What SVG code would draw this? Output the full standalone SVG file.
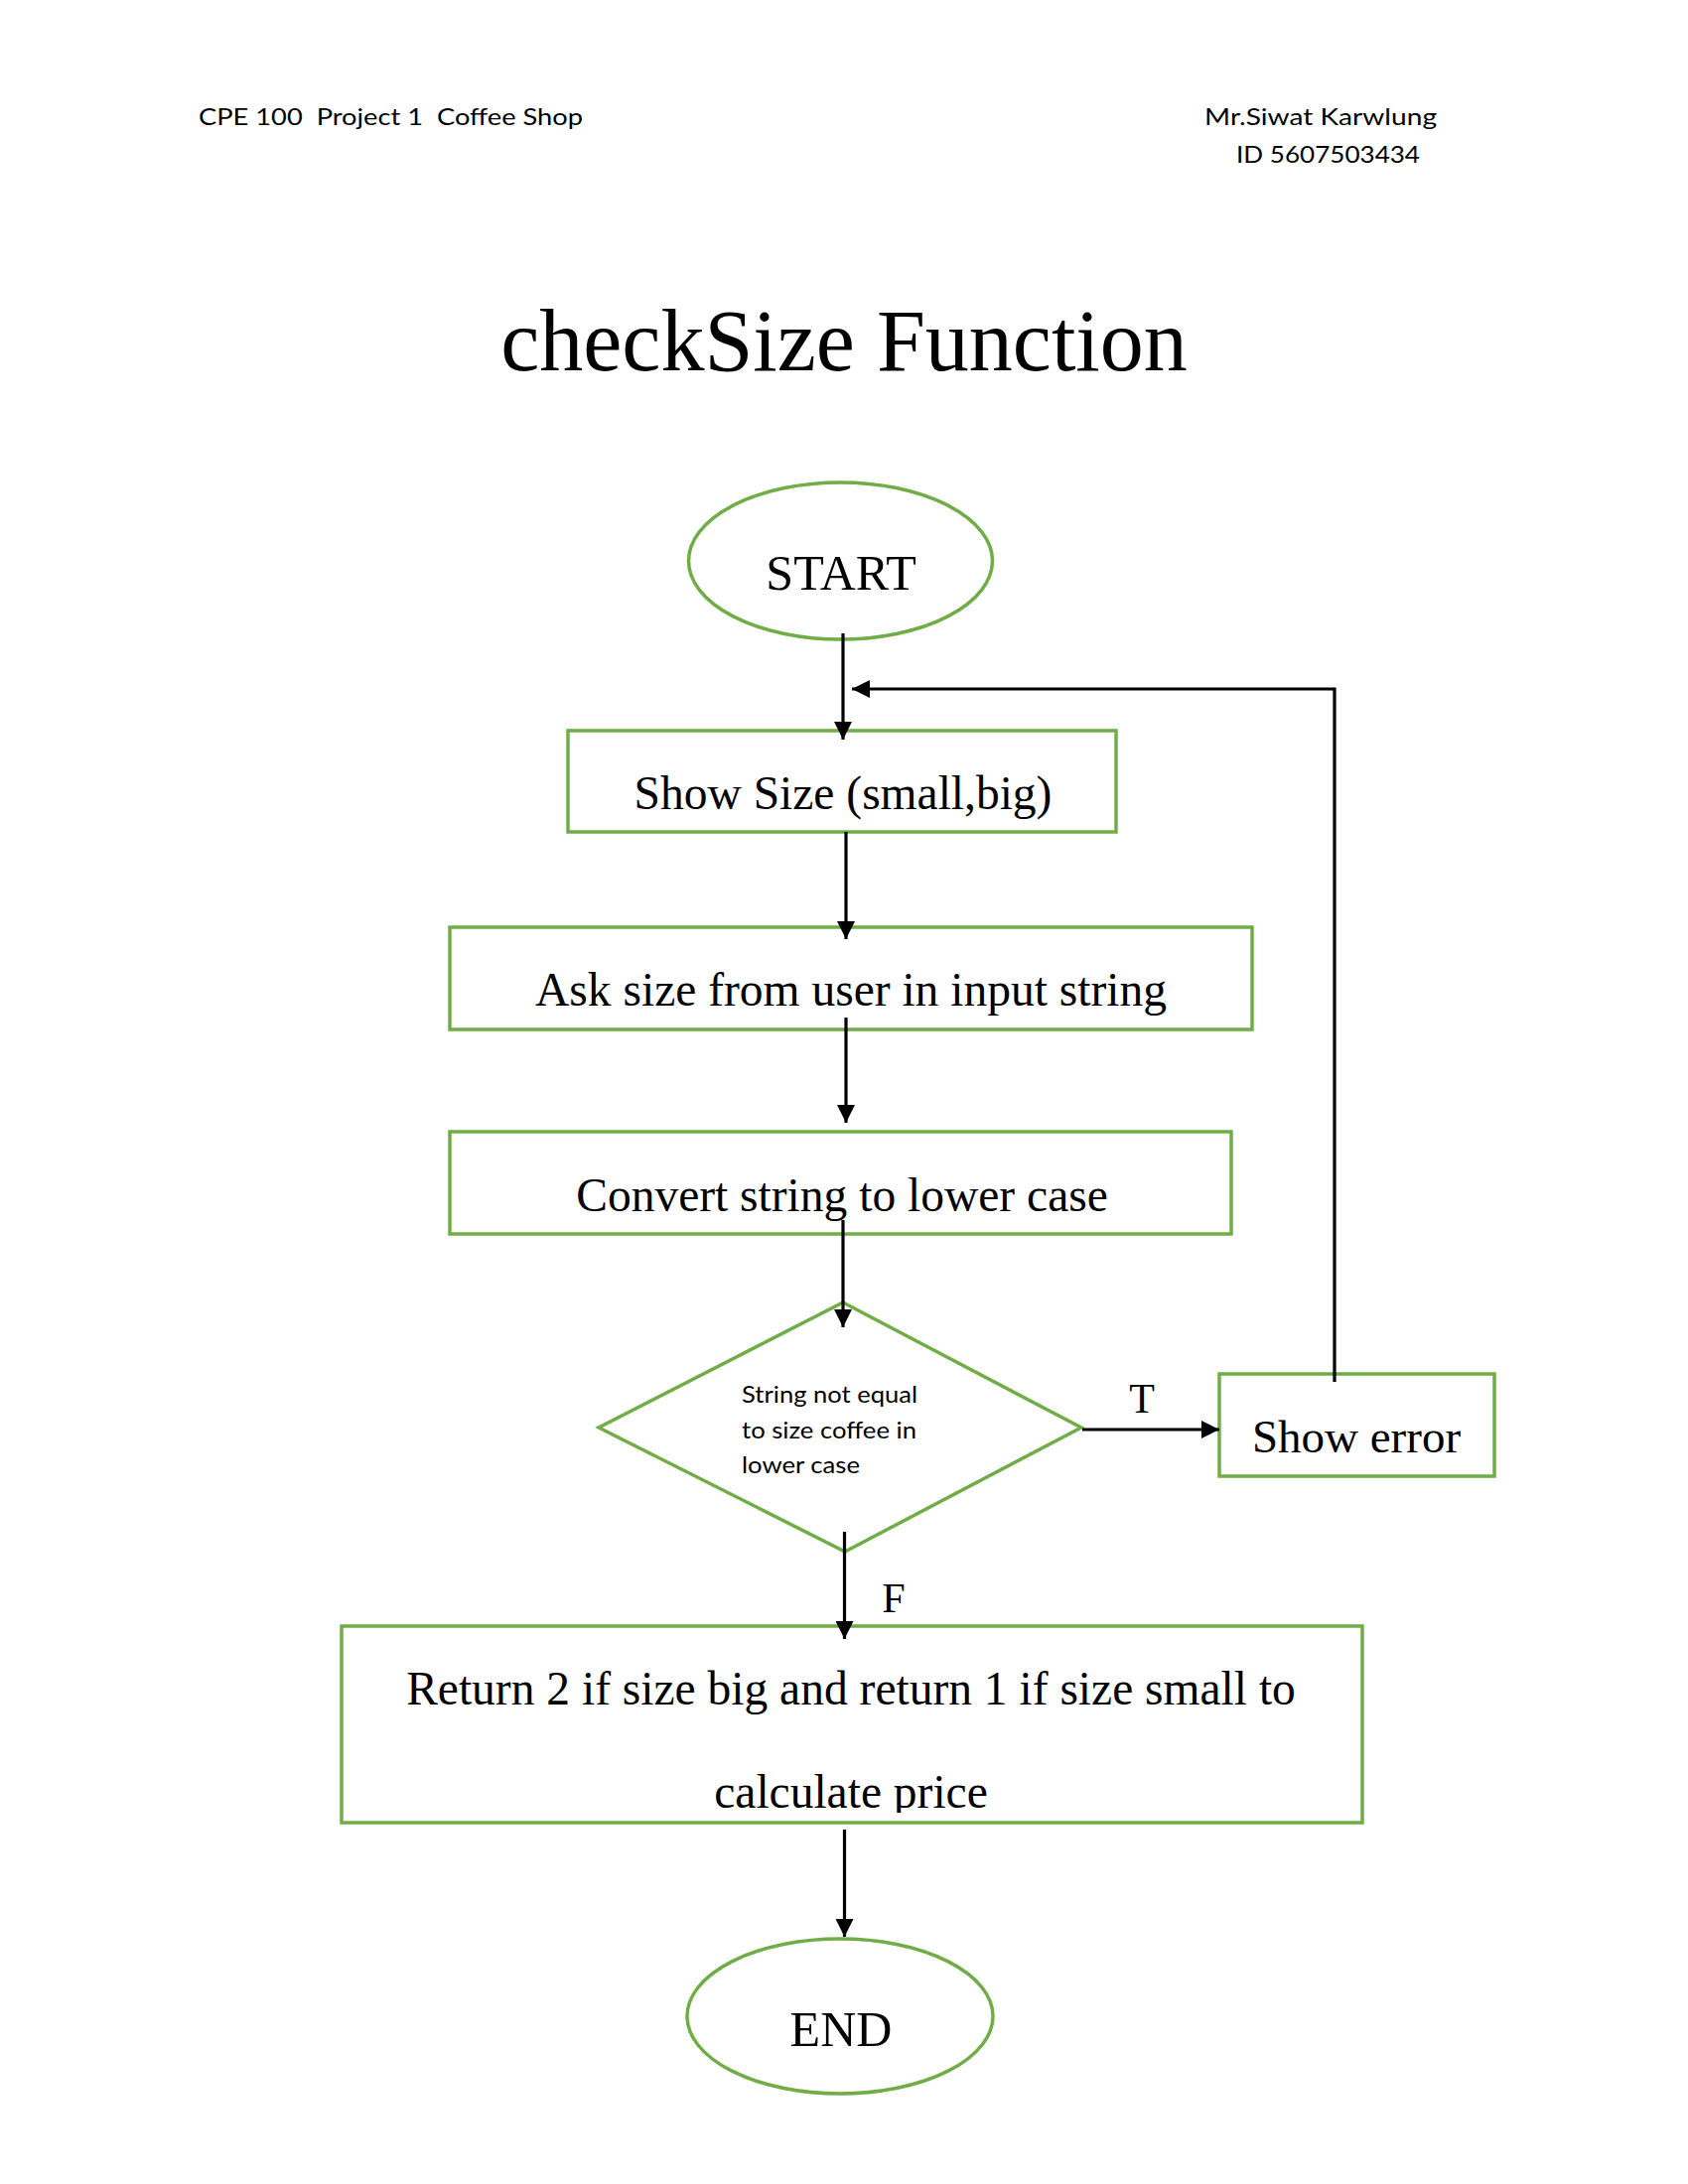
<svg xmlns="http://www.w3.org/2000/svg" width="1700" height="2200" viewBox="0 0 1700 2200">
<style>
.hdr{font-family:Lato,"Open Sans","Liberation Sans",sans-serif;font-size:24px;fill:#000}
.dtx{font-family:Lato,"Open Sans","Liberation Sans",sans-serif;font-size:24px;fill:#000}
.ser{font-family:"Liberation Serif","Times New Roman",serif;fill:#000}
.box{fill:#fff;stroke:#70AD47;stroke-width:3.5}
.con{fill:none;stroke:#000;stroke-width:3.2}
</style>
<defs>
<marker id="ah" markerUnits="userSpaceOnUse" markerWidth="18" markerHeight="18" refX="18" refY="9" orient="auto">
<path d="M0,0 L18,9 L0,18 z" fill="#000"/>
</marker>
<clipPath id="retclip"><rect x="346" y="1640" width="1024" height="186"/></clipPath>
</defs>
<rect width="1700" height="2200" fill="#fff"/>
<g id="header">
<text class="hdr" x="200" y="126" textLength="387" lengthAdjust="spacingAndGlyphs" xml:space="preserve">CPE 100  Project 1  Coffee Shop</text>
<text class="hdr" x="1213" y="126" textLength="234" lengthAdjust="spacingAndGlyphs">Mr.Siwat Karwlung</text>
<text class="hdr" x="1245" y="164" textLength="185" lengthAdjust="spacingAndGlyphs">ID 5607503434</text>
</g>
<g id="title">
<text class="ser" x="850" y="373" font-size="88" text-anchor="middle">checkSize Function</text>
</g>
<g id="start">
<ellipse class="box" cx="846.5" cy="565" rx="153" ry="79"/>
<text class="ser" x="847" y="594" font-size="50" text-anchor="middle">START</text>
</g>
<g id="show-size">
<rect class="box" x="572" y="736" width="552" height="102"/>
<text class="ser" x="849" y="815" font-size="47.5" text-anchor="middle">Show Size (small,big)</text>
</g>
<g id="ask-size">
<rect class="box" x="453" y="934" width="808" height="103"/>
<text class="ser" x="857" y="1013" font-size="47.5" text-anchor="middle">Ask size from user in input string</text>
</g>
<g id="convert">
<rect class="box" x="453" y="1140" width="787" height="103"/>
<text class="ser" x="848" y="1220" font-size="47.5" text-anchor="middle">Convert string to lower case</text>
</g>
<g id="decision">
<polygon class="box" points="849,1312 1089,1438 851,1563 603,1438"/>
<text class="dtx" x="747" y="1413" textLength="177" lengthAdjust="spacingAndGlyphs">String not equal</text>
<text class="dtx" x="747" y="1449" textLength="176" lengthAdjust="spacingAndGlyphs">to size coffee in</text>
<text class="dtx" x="747" y="1484" textLength="119" lengthAdjust="spacingAndGlyphs">lower case</text>
</g>
<g id="show-error">
<rect class="box" x="1228" y="1384" width="277" height="103"/>
<text class="ser" x="1366" y="1463" font-size="47" text-anchor="middle">Show error</text>
</g>
<g id="return">
<rect class="box" x="344" y="1638" width="1028" height="198"/>
<g clip-path="url(#retclip)">
<text class="ser" x="857" y="1717" font-size="47.5" text-anchor="middle">Return 2 if size big and return 1 if size small to</text>
<text class="ser" x="857" y="1821" font-size="47.5" text-anchor="middle">calculate price</text>
</g>
</g>
<g id="end">
<ellipse class="box" cx="846" cy="2031" rx="154" ry="78"/>
<text class="ser" x="847" y="2061" font-size="50" text-anchor="middle">END</text>
</g>
<g id="connectors">
<line class="con" x1="849" y1="638" x2="849" y2="745" marker-end="url(#ah)"/>
<polyline class="con" points="1344,1392 1344,694 858,694" marker-end="url(#ah)"/>
<line class="con" x1="852" y1="838" x2="852" y2="946" marker-end="url(#ah)"/>
<line class="con" x1="852" y1="1025" x2="852" y2="1131" marker-end="url(#ah)"/>
<line class="con" x1="849" y1="1229" x2="849" y2="1337" marker-end="url(#ah)"/>
<line class="con" x1="1090" y1="1440" x2="1228" y2="1440" marker-end="url(#ah)"/>
<line class="con" x1="850.5" y1="1543" x2="850.5" y2="1651" marker-end="url(#ah)"/>
<line class="con" x1="850.5" y1="1843" x2="850.5" y2="1951" marker-end="url(#ah)"/>
<text class="ser" x="1150" y="1423" font-size="42" text-anchor="middle">T</text>
<text class="ser" x="900" y="1624" font-size="42" text-anchor="middle">F</text>
</g>
</svg>
